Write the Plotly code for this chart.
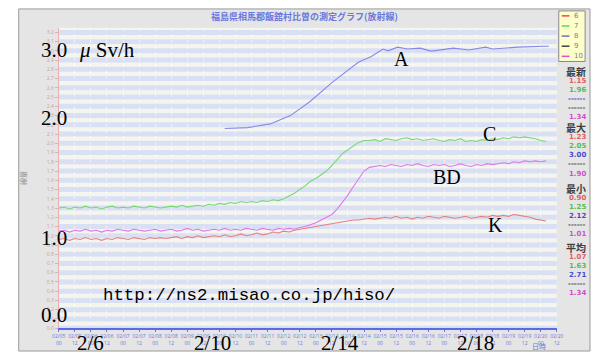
import plotly.graph_objects as go
from datetime import datetime, timedelta

W, H = 597, 354

# ---------------- data ----------------
start = datetime(2012, 2, 5, 0, 0)
step_hours = 4

c_vals = [1.30,1.31,1.29,1.31,1.30,1.32,1.30,1.31,1.29,1.31,
          1.32,1.30,1.31,1.30,1.32,1.31,1.30,1.32,1.31,1.30,
          1.31,1.32,1.31,1.33,1.31,1.32,1.33,1.32,
          1.34,1.33,1.35,1.34,1.36,1.35,1.37,1.36,1.37,1.36,1.38,1.37,1.39,1.38,1.40,
          1.43,1.46,1.50,1.54,1.59,1.62,1.66,1.70,1.76,1.82,1.89,1.93,1.97,2.01,2.03,
          2.03,2.04,2.02,2.05,2.04,2.03,2.05,2.06,2.04,2.05,
          2.03,2.04,2.05,2.03,2.02,2.04,2.03,2.05,2.02,2.03,
          2.02,2.04,2.03,2.05,2.04,2.06,2.05,2.07,2.06,2.07,
          2.06,2.05,2.03,2.02]

bd_vals = [1.05,1.06,1.04,1.06,1.05,1.07,1.05,1.06,1.04,1.06,
           1.05,1.07,1.06,1.05,1.07,1.06,1.05,1.06,1.07,1.05,
           1.06,1.07,1.05,1.06,1.08,1.06,1.07,1.05,1.06,1.07,
           1.06,1.08,1.06,1.07,1.06,1.08,1.07,1.06,1.08,1.07,
           1.06,1.08,1.07,1.08,1.07,
           1.09,1.10,1.12,1.14,1.17,1.20,1.23,1.29,1.36,1.44,1.53,1.62,1.70,1.74,1.75,
           1.76,1.75,1.77,1.76,1.75,1.77,1.76,1.78,1.76,1.75,
           1.77,1.76,1.77,1.75,1.76,1.78,1.76,1.75,1.77,1.76,
           1.78,1.77,1.78,1.79,1.78,1.80,1.79,1.81,1.80,1.81,
           1.80,1.81]

k_vals = [0.96,0.97,0.95,0.97,0.96,0.98,0.96,0.97,0.95,0.97,
          0.96,0.98,0.97,0.96,0.98,0.97,0.96,0.98,0.97,0.98,0.97,
          0.98,0.99,0.97,0.99,0.98,1.00,0.98,0.99,1.00,0.99,
          1.01,0.99,1.00,1.02,1.00,1.01,1.03,1.01,1.02,1.04,
          1.03,1.05,1.04,1.06,1.07,1.08,1.09,1.10,1.11,1.12,
          1.13,1.14,1.15,1.16,1.17,1.17,1.18,1.19,1.18,
          1.19,1.20,1.19,1.21,1.19,1.20,1.18,1.20,1.19,1.21,
          1.20,1.19,1.21,1.20,1.19,1.20,1.21,1.19,1.20,1.21,
          1.20,1.22,1.21,1.22,1.21,1.23,1.22,1.21,1.20,1.18,
          1.17,1.16]

a_times = ["2012-02-10 04:00","2012-02-10 21:00","2012-02-11 14:00","2012-02-12 05:00",
           "2012-02-12 19:30","2012-02-13 12:15","2012-02-14 08:00","2012-02-14 17:30",
           "2012-02-15 02:10","2012-02-15 05:50","2012-02-15 13:10","2012-02-15 20:25",
           "2012-02-16 06:00","2012-02-16 13:10","2012-02-16 16:00","2012-02-17 06:40",
           "2012-02-17 18:30","2012-02-18 06:45","2012-02-18 12:00","2012-02-19 07:00",
           "2012-02-20 02:30","2012-02-20 06:00"]
a_vals = [2.16,2.17,2.21,2.30,2.45,2.66,2.88,2.94,3.02,3.00,3.04,3.02,
          3.03,3.00,3.00,3.03,3.01,3.04,3.02,3.04,3.05,3.05]

y_tick_vals = [round(i * 0.1, 1) for i in range(33)]
y_tick_text = [f"{v:.1f}" for v in y_tick_vals]

legend_names = ["6", "7", "8", "9", "10"]
legend_colors = ["#e05050", "#50e050", "#7070d0", "#404040", "#e050d0"]

stats_headers = ["最新", "最大", "最小", "平均"]
stats_values = [["1.15", "1.96", "------", "------", "1.34"],
                ["1.23", "2.05", "3.00", "------", "1.90"],
                ["0.90", "1.25", "2.12", "------", "1.01"],
                ["1.07", "1.63", "2.71", "------", "1.34"]]
stats_colors = ["#e06060", "#50c050", "#4a4ad0", "#505050", "#d050d0"]

big_y_labels = ["3.0", "2.0", "1.0", "0.0"]
big_x_labels = ["2/6", "2/10", "2/14", "2/18"]
series_labels = ["A", "C", "BD", "K"]

def times(n):
    return [start + timedelta(hours=step_hours * i) for i in range(n)]

# ---------------- figure ----------------
x0p, x1p = 53 / W, 563 / W
y0p, y1p = 1 - 331 / H, 1 - 28 / H

def px(x):
    return x / W

def py(y):
    return 1 - y / H

fig = go.Figure()
fig.add_trace(go.Scatter(x=times(len(k_vals)), y=k_vals, mode="lines",
                         line=dict(color="#e68080", width=1.1), name="K"))
fig.add_trace(go.Scatter(x=times(len(bd_vals)), y=bd_vals, mode="lines",
                         line=dict(color="#e078e8", width=1.1), name="BD"))
fig.add_trace(go.Scatter(x=times(len(c_vals)), y=c_vals, mode="lines",
                         line=dict(color="#78d878", width=1.1), name="C"))
fig.add_trace(go.Scatter(x=a_times, y=a_vals, mode="lines",
                         line=dict(color="#8888e8", width=1.1), name="A"))

shapes = []
# outer frame
shapes.append(dict(type="rect", xref="paper", yref="paper", x0=px(12), x1=1.0, y0=0, y1=py(9),
                   fillcolor="#e5e5e5", line=dict(color="#9a9a9a", width=1), layer="below"))
# plot area background
shapes.append(dict(type="rect", xref="x domain", yref="y domain", x0=0, x1=1, y0=0, y1=1,
                   fillcolor="#f5f5f0", line=dict(width=0), layer="below"))
# stripes
for v in y_tick_vals:
    shapes.append(dict(type="rect", xref="x domain", yref="y", x0=0, x1=1,
                       y0=v - 0.027, y1=v + 0.027, fillcolor="#d9e0f4",
                       line=dict(width=0), layer="below"))
# legend box
shapes.append(dict(type="rect", xref="paper", yref="paper", x0=px(565), x1=px(592),
                   y0=py(62), y1=py(11), fillcolor="#ffffcc",
                   line=dict(color="#888888", width=1)))
ann = []
for i, (nm, col) in enumerate(zip(legend_names, legend_colors)):
    yy = 16 + i * 10.2
    shapes.append(dict(type="line", xref="paper", yref="paper", x0=px(568), x1=px(576),
                       y0=py(yy), y1=py(yy), line=dict(color=col, width=1.5)))
    ann.append(dict(x=px(579), y=py(yy), xref="paper", yref="paper", text=nm,
                    showarrow=False, xanchor="left", yanchor="middle",
                    font=dict(size=7, color="#808080", family="DejaVu Sans")))

# stats
header_y = [72, 129, 190, 250]
for hy, hd, vals in zip(header_y, stats_headers, stats_values):
    ann.append(dict(x=px(595), y=py(hy), xref="paper", yref="paper", text="<b>" + hd + "</b>",
                    showarrow=False, xanchor="right", yanchor="middle",
                    font=dict(size=10, color="#404040", family="Noto Sans CJK JP")))
    for j, (val, col) in enumerate(zip(vals, stats_colors)):
        ann.append(dict(x=px(595), y=py(hy + 9.2 + j * 9.2), xref="paper", yref="paper",
                        text="<b>" + val + "</b>", showarrow=False, xanchor="right",
                        yanchor="middle",
                        font=dict(size=7, color=col, family="DejaVu Sans")))

# title
ann.append(dict(x=px(305), y=py(17), xref="paper", yref="paper",
                text="<b>福島県相馬郡飯舘村比曽の測定グラフ(放射線)</b>", showarrow=False,
                xanchor="center", yanchor="middle",
                font=dict(size=9, color="#6a78e0", family="Noto Sans CJK JP")))
# y axis title
ann.append(dict(x=px(17), y=py(180), xref="paper", yref="paper", text="線量",
                showarrow=False, textangle=-90, xanchor="center", yanchor="middle",
                font=dict(size=7, color="#909090", family="Noto Sans CJK JP")))
# date label
ann.append(dict(x=px(545), y=py(349), xref="paper", yref="paper", text="日時",
                showarrow=False, xanchor="center", yanchor="middle",
                font=dict(size=7, color="#6a78e0", family="Noto Sans CJK JP")))

serif = "Liberation Serif"
big_y_pos = [(33, 50), (33, 119), (33, 240), (33, 318)]
for txt, (bx, by) in zip(big_y_labels, big_y_pos):
    ann.append(dict(x=px(bx), y=py(by), xref="paper", yref="paper", text=txt,
                    showarrow=False, xanchor="left", yanchor="middle",
                    font=dict(size=21, color="#000000", family=serif)))
ann.append(dict(x=px(72), y=py(50), xref="paper", yref="paper", text="<i>μ</i> Sv/h",
                showarrow=False, xanchor="left", yanchor="middle",
                font=dict(size=21, color="#000000", family=serif)))
big_x_pos = [86, 210, 341, 480]
for txt, bx in zip(big_x_labels, big_x_pos):
    ann.append(dict(x=px(bx), y=py(346), xref="paper", yref="paper", text=txt,
                    showarrow=False, xanchor="center", yanchor="middle",
                    font=dict(size=21, color="#000000", family=serif)))
series_pos = [(404, 60), (494, 135), (451, 179), (500, 227)]
for txt, (sx, sy) in zip(series_labels, series_pos):
    ann.append(dict(x=px(sx), y=py(sy), xref="paper", yref="paper", text=txt,
                    showarrow=False, xanchor="center", yanchor="middle",
                    font=dict(size=20, color="#000000", family=serif)))
# url
ann.append(dict(x=px(96), y=py(298), xref="paper", yref="paper",
                text="http://ns2.misao.co.jp/hiso/", showarrow=False,
                xanchor="left", yanchor="middle",
                font=dict(size=17.4, color="#000000", family="Liberation Mono")))

fig.update_layout(
    width=W, height=H, margin=dict(l=0, r=0, t=0, b=0),
    paper_bgcolor="#ffffff", plot_bgcolor="rgba(0,0,0,0)",
    showlegend=False, shapes=shapes, annotations=ann,
    xaxis=dict(domain=[x0p, x1p], type="date",
               range=["2012-02-05 00:00", "2012-02-20 12:00"],
               dtick=12 * 3600 * 1000, tick0="2012-02-05 00:00",
               tickformat="%m/%d<br>%H", tickfont=dict(size=5, color="#6a78e0"),
               ticks="outside", ticklen=2, tickcolor="#6a78e0",
               showgrid=True, gridcolor="rgba(255,255,255,0.55)", griddash="dot", gridwidth=1,
               showline=True, linecolor="#5a6ae8", linewidth=2, zeroline=False),
    yaxis=dict(domain=[y0p, y1p], range=[0, 3.25],
               tickvals=y_tick_vals, ticktext=y_tick_text,
               tickfont=dict(size=5, color="#c8a0a0"),
               ticks="outside", ticklen=3, tickcolor="#e0b0b0",
               showgrid=False, zeroline=False,
               showline=True, linecolor="#e8b0b0", linewidth=1),
)

fig.write_html("out.html")
